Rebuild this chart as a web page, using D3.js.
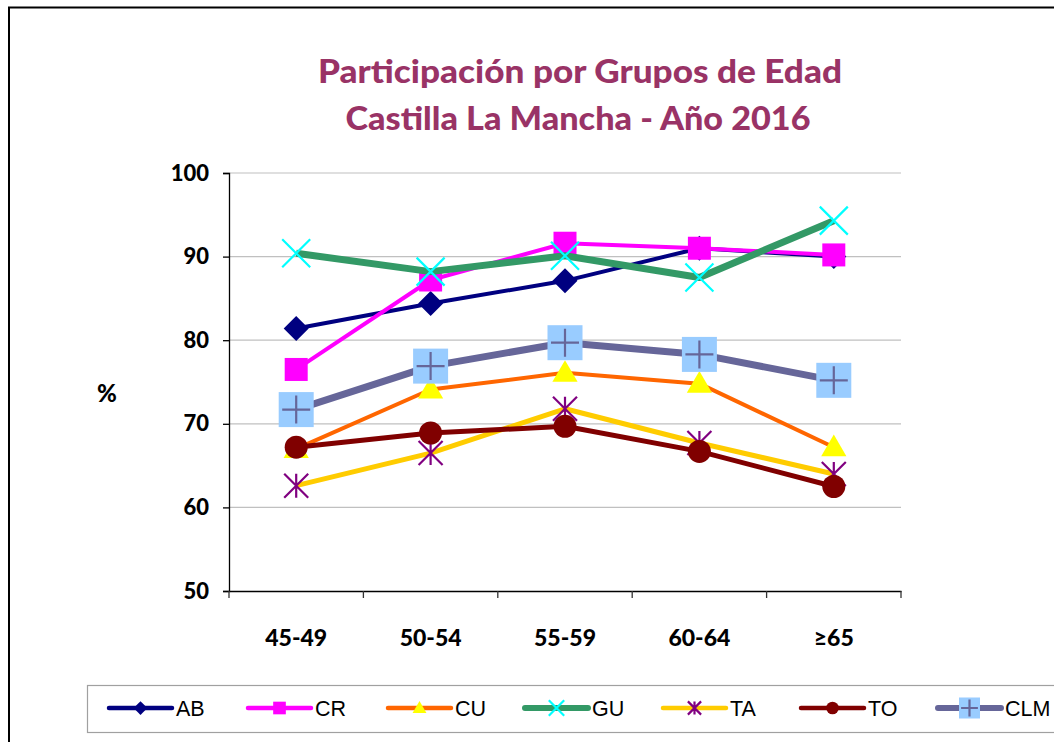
<!DOCTYPE html>
<html><head><meta charset="utf-8">
<script src="https://cdn.jsdelivr.net/npm/d3@7"></script>
<style>body{margin:0;background:#fff}svg{display:block}</style>
</head><body>
<svg id="c" width="1054" height="742"></svg>
<script>
const categories = ["45-49","50-54","55-59","60-64","≥65"];
const yTicks = [50,60,70,80,90,100];
const seriesNames = ["AB","CR","CU","GU","TA","TO","CLM"];
const AB  = [81.4, 84.4, 87.1, 91.0, 90.0];
const CR  = [76.5, 87.2, 91.6, 91.0, 90.2];
const CU  = [67.0, 74.1, 76.1, 74.8, 67.2];
const GU  = [90.4, 88.2, 90.1, 87.5, 94.3];
const TA  = [62.6, 66.5, 71.8, 67.7, 64.0];
const TO  = [67.2, 68.9, 69.7, 66.7, 62.5];
const CLM = [71.7, 76.9, 79.7, 78.3, 75.2];
const titleLines = ["Participación por Grupos de Edad","Castilla La Mancha - Año 2016"];

const styles = {
  AB:{line:"#000080",w:4,mk:"diamond",fill:"#000080"},
  CR:{line:"#FF00FF",w:4,mk:"square",fill:"#FF00FF"},
  CU:{line:"#FF6600",w:4,mk:"triangle",fill:"#FFFF00"},
  GU:{line:"#339966",w:7,mk:"x",stroke:"#00FFFF"},
  TA:{line:"#FFCC00",w:5,mk:"star",stroke:"#800080"},
  TO:{line:"#800000",w:5,mk:"circle",fill:"#800000"},
  CLM:{line:"#666699",w:7,mk:"plusbox",fill:"#99CCFF",stroke:"#666699"}
};
const dataMap = {AB,CR,CU,GU,TA,TO,CLM};

const svg = d3.select("#c");
// outer frame
svg.append("rect").attr("x",9).attr("y",7.5).attr("width",1060).attr("height",760)
  .attr("fill","none").attr("stroke","#000").attr("stroke-width",2);

const x = d3.scaleBand().domain(categories).range([229,901]).padding(0);
const y = d3.scaleLinear().domain([50,100]).range([591,173]);
const cx = c => x(c) + x.bandwidth()/2;

// title
const title = svg.append("text").attr("text-anchor","middle")
  .attr("font-family","Lato, 'Open Sans', sans-serif").attr("font-weight","900")
  .attr("font-size",33).attr("fill","#993366");
title.append("tspan").attr("x",580).attr("y",83).attr("textLength",524)
  .attr("lengthAdjust","spacingAndGlyphs").text(titleLines[0]);
const t2 = svg.append("text").attr("text-anchor","middle")
  .attr("font-family","Lato, 'Open Sans', sans-serif").attr("font-weight","900")
  .attr("font-size",33).attr("fill","#993366")
  .attr("x",578).attr("y",130).attr("textLength",465)
  .attr("lengthAdjust","spacingAndGlyphs").text(titleLines[1]);

// gridlines
svg.append("g").selectAll("line").data(yTicks.filter(d=>d>50)).join("line")
  .attr("x1",229).attr("x2",901).attr("y1",d=>y(d)).attr("y2",d=>y(d))
  .attr("stroke","#C0C0C0").attr("stroke-width",1.2);

// y axis
const yAxis = svg.append("g").attr("transform","translate(229,0)")
  .call(d3.axisLeft(y).tickValues(yTicks).tickSize(6).tickPadding(14));
yAxis.select(".domain").attr("stroke","#000").attr("stroke-width",1.3);
yAxis.selectAll(".tick line").attr("stroke","#000").attr("stroke-width",1.3);
yAxis.selectAll(".tick text").attr("font-family","Lato, sans-serif").attr("font-weight","900")
  .attr("font-size",22).attr("fill","#000");

// x axis
const xAxis = svg.append("g").attr("transform","translate(0,591)")
  .call(d3.axisBottom(x).tickSize(0).tickPadding(39));
xAxis.select(".domain").attr("stroke","#000").attr("stroke-width",1.3);
xAxis.selectAll(".tick text").attr("font-family","Lato, sans-serif").attr("font-weight","900")
  .attr("font-size",23).attr("fill","#000");
svg.append("g").selectAll("line").data(d3.range(categories.length+1)).join("line")
  .attr("x1",i=>229+i*x.bandwidth()).attr("x2",i=>229+i*x.bandwidth())
  .attr("y1",591).attr("y2",598).attr("stroke","#333").attr("stroke-width",1.3);

// % label
svg.append("text").attr("x",107).attr("y",402).attr("text-anchor","middle")
  .attr("font-family","Lato, sans-serif").attr("font-weight","900").attr("font-size",24).text("%");

function marker(g, type, st, s){
  if(type==="diamond"){
    const r=12.5*s;
    g.append("path").attr("d",`M0,${-r}L${r},0L0,${r}L${-r},0Z`).attr("fill",st.fill);
  } else if(type==="square"){
    const r=11.5*s;
    g.append("rect").attr("x",-r).attr("y",-r).attr("width",2*r).attr("height",2*r).attr("fill",st.fill);
  } else if(type==="triangle"){
    const r=12*s;
    g.append("path").attr("d",`M0,${-r*1.05}L${r*1.05},${r*0.75}L${-r*1.05},${r*0.75}Z`).attr("fill",st.fill);
  } else if(type==="x"){
    const r=14*s;
    g.append("path").attr("d",`M${-r},${-r}L${r},${r}M${r},${-r}L${-r},${r}`)
      .attr("stroke",st.stroke).attr("stroke-width",2.2).attr("fill","none");
  } else if(type==="star"){
    const r=12*s;
    g.append("path").attr("d",`M${-r},${-r}L${r},${r}M${r},${-r}L${-r},${r}M0,${-r}L0,${r}`)
      .attr("stroke",st.stroke).attr("stroke-width",2.2).attr("fill","none");
  } else if(type==="circle"){
    g.append("circle").attr("r",11.5*s).attr("fill",st.fill);
  } else if(type==="plusbox"){
    const r=17.5*s, p=14*s;
    g.append("rect").attr("x",-r).attr("y",-r).attr("width",2*r).attr("height",2*r).attr("fill",st.fill);
    g.append("path").attr("d",`M${-p},0L${p},0M0,${-p}L0,${p}`)
      .attr("stroke",st.stroke).attr("stroke-width",2.2);
  }
}

const line = d3.line().x((d,i)=>cx(categories[i])).y(d=>y(d));
seriesNames.forEach(name=>{
  const st = styles[name], vals = dataMap[name];
  const g = svg.append("g");
  g.append("path").attr("d",line(vals)).attr("fill","none").attr("stroke",st.line)
    .attr("stroke-width",st.w).attr("stroke-linejoin","round");
  vals.forEach((v,i)=>{
    const mg = g.append("g").attr("transform",`translate(${cx(categories[i])},${y(v)})`);
    marker(mg, st.mk, st, 1);
  });
});

// legend
svg.append("rect").attr("x",87.5).attr("y",685.5).attr("width",1000).attr("height",47)
  .attr("fill","none").attr("stroke","#A0A0A0").attr("stroke-width",1.2);
const legX = [109,248,388,525,663,801,938];
seriesNames.forEach((name,i)=>{
  const st = styles[name];
  const g = svg.append("g").attr("transform",`translate(${legX[i]},708)`);
  g.append("line").attr("x1",0).attr("x2",63).attr("y1",0).attr("y2",0)
    .attr("stroke",st.line).attr("stroke-width",name==="GU"||name==="CLM"?6:4.5).attr("stroke-linecap","round");
  const mg = g.append("g").attr("transform","translate(31.5,0)");
  marker(mg, st.mk, st, name==="CLM"?0.6:0.55);
  g.append("text").attr("x",67).attr("y",7.5).attr("font-family","'Liberation Sans', Arial, sans-serif")
    .attr("font-size",21.5).attr("fill","#000").text(name);
});
</script>
</body></html>
